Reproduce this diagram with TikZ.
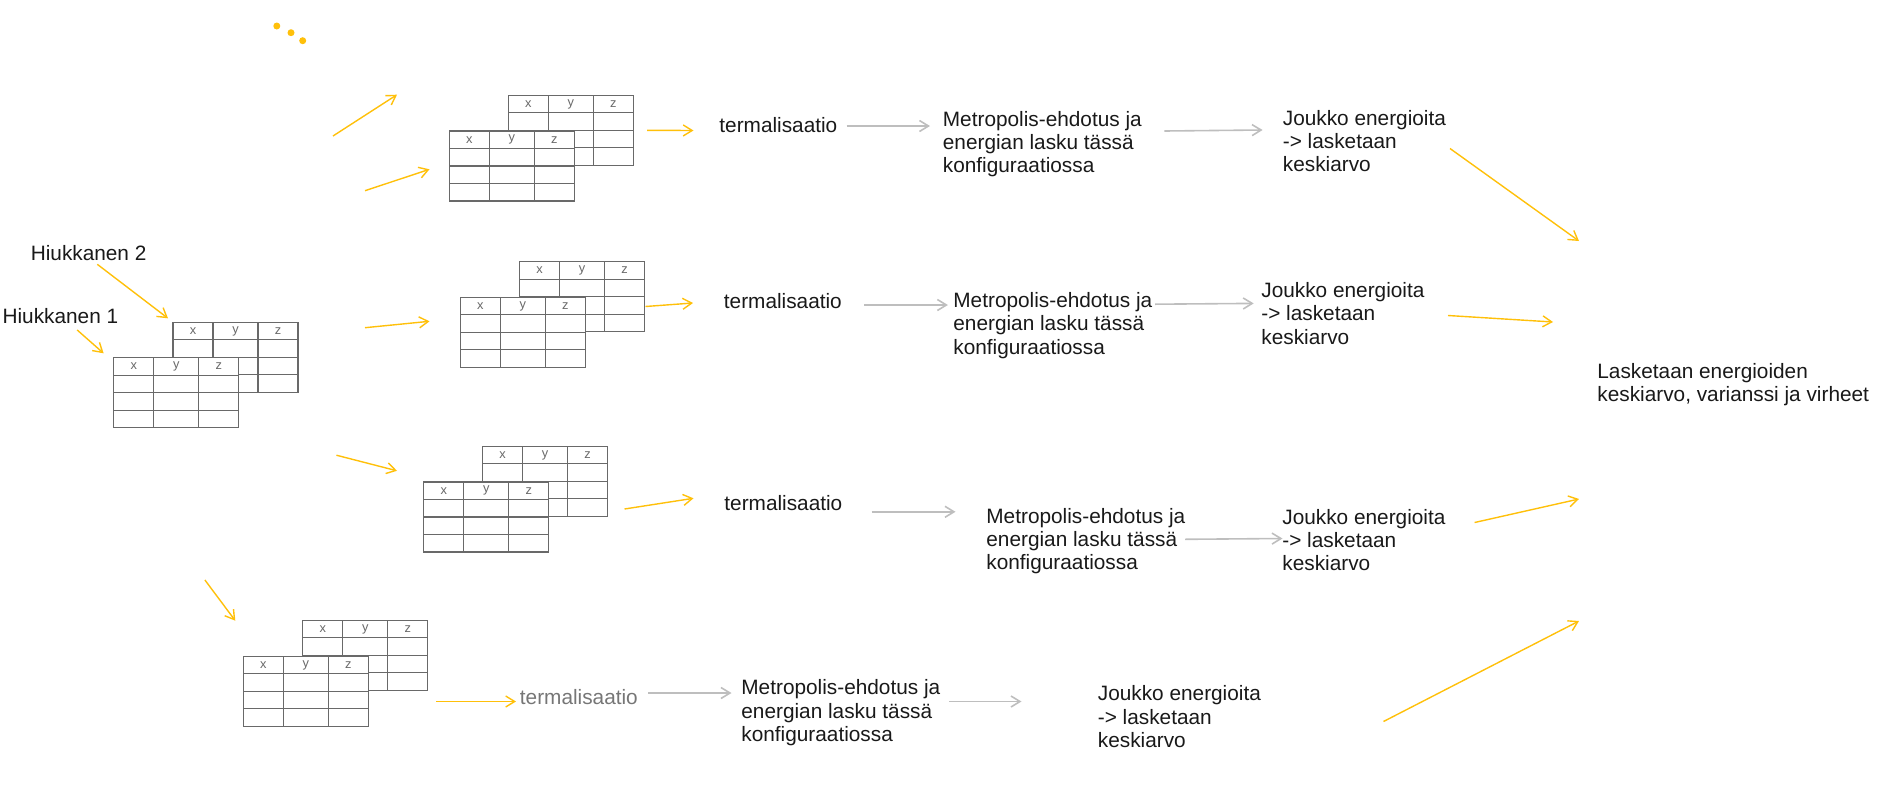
\documentclass[tikz,border=0pt]{standalone}
\usepackage{fontspec}
\setmainfont{Liberation Sans}
\usetikzlibrary{arrows.meta}
\definecolor{amber}{RGB}{255,192,10}
\definecolor{arrowgray}{RGB}{190,190,190}
\definecolor{gridgray}{RGB}{105,105,105}
\definecolor{ink}{RGB}{25,25,25}
\definecolor{softink}{RGB}{118,118,118}

\tikzset{
  tabline/.style={draw=gridgray, line width=0.6pt},
  hdr/.style={font=\fontsize{6.4pt}{7pt}\selectfont, text=gridgray, inner sep=0pt},
  % a 3-column x/y/z table, 4 rows, anchored at its top-left corner
  xyztab/.pic={
    \fill[white] (0,0) rectangle (125,70);
    \draw[tabline] (0,0) rectangle (125,70);
    \draw[tabline] (40,0) -- (40,70) (85,0) -- (85,70);
    \draw[tabline] (0,17.5) -- (125,17.5) (0,35) -- (125,35) (0,52.5) -- (125,52.5);
    \node[hdr] (-x) at (20,8.75) {x};
    \node[hdr] (-y) at (62.5,8.75) {y};
    \node[hdr] (-z) at (105,8.75) {z};
  },
  % multi-line labels are placed at the baseline of their last line
  txt/.style={font=\fontsize{10.4pt}{11.65pt}\selectfont, text=ink, inner sep=0pt, anchor=base west, align=left},
  flow/.style={draw=amber, line width=0.7pt, -{Straight Barb[length=4.5pt,width=5.5pt]}},
  procstep/.style={draw=arrowgray, line width=0.8pt, -{Straight Barb[length=4.5pt,width=5.5pt]}},
}

\begin{document}
\begin{tikzpicture}[x=0.5pt,y=-0.5pt]
\useasboundingbox (0,0) rectangle (1892,804);

% ellipsis dots
\fill[amber] (276.8,26) circle[radius=1.75pt];
\fill[amber] (291,32.7) circle[radius=1.75pt];
\fill[amber] (302.7,40.7) circle[radius=1.75pt];

% particle tables
\pic (t0b) at (173,322.3) {xyztab};
\pic (t0f) at (113.8,357.7) {xyztab};
\node[txt] (h2) at (30.4,260) {Hiukkanen 2};
\node[txt] (h1) at (2.2,323.3) {Hiukkanen 1};

% configuration copies
\pic (tAb) at (508.3,95.3) {xyztab};
\pic (tAf) at (449.3,131) {xyztab};
\pic (tBb) at (519.6,261.7) {xyztab};
\pic (tBf) at (460.3,297.3) {xyztab};
\pic (tCb) at (482.6,446.3) {xyztab};
\pic (tCf) at (423.7,482) {xyztab};
\pic (tDb) at (302.7,620.3) {xyztab};
\pic (tDf) at (243.3,656.3) {xyztab};

% text labels
\node[txt] (termA) at (719,132.5) {termalisaatio};
\node[txt] (metA) at (942.5,172.6) {Metropolis-ehdotus ja\\energian lasku tässä\\konfiguraatiossa};
\node[txt] (jouA) at (1282.5,171.6) {Joukko energioita\\-> lasketaan\\keskiarvo};

\node[txt] (termB) at (723.5,308.5) {termalisaatio};
\node[txt] (metB) at (953,354.1) {Metropolis-ehdotus ja\\energian lasku tässä\\konfiguraatiossa};
\node[txt] (jouB) at (1261,344.1) {Joukko energioita\\-> lasketaan\\keskiarvo};

\node[txt] (termC) at (724,510.8) {termalisaatio};
\node[txt] (metC) at (986,569.8) {Metropolis-ehdotus ja\\energian lasku tässä\\konfiguraatiossa};
\node[txt] (jouC) at (1282,570.8) {Joukko energioita\\-> lasketaan\\keskiarvo};

\node[txt, text=softink] (termD) at (519.5,704.2) {termalisaatio};
\node[txt] (metD) at (741,741.4) {Metropolis-ehdotus ja\\energian lasku tässä\\konfiguraatiossa};
\node[txt] (jouD) at (1097.5,747.4) {Joukko energioita\\-> lasketaan\\keskiarvo};

\node[txt] (final) at (1597,401.3) {Lasketaan energioiden\\keskiarvo, varianssi ja virheet};

% arrow end points
\coordinate (h2s) at (97.3,264.3);  \coordinate (h2e) at (168,318.3);
\coordinate (h1s) at (77.2,330);    \coordinate (h1e) at (103.6,353.3);
\coordinate (dotS) at (333,136);    \coordinate (dotE) at (397,94.7);
\coordinate (toAs) at (365,190.7);  \coordinate (toAe) at (429.5,169.3);
\coordinate (toBs) at (365,327.7);  \coordinate (toBe) at (429.5,321.3);
\coordinate (toCs) at (336.4,455.2);\coordinate (toCe) at (397,470.8);
\coordinate (toDs) at (204.9,580);  \coordinate (toDe) at (235.3,620.7);

\coordinate (aTs) at (647,130.3);   \coordinate (aTe) at (693.5,130.5);
\coordinate (bTs) at (645.5,306.5); \coordinate (bTe) at (693,303);
\coordinate (cTs) at (624.5,509);   \coordinate (cTe) at (693.5,498.3);
\coordinate (dTs) at (436.4,701.5); \coordinate (dTe) at (516,701.5);

\coordinate (aM1) at (846.5,126);   \coordinate (aM2) at (930,126);
\coordinate (aJ1) at (1164.4,131);  \coordinate (aJ2) at (1262.6,130);
\coordinate (bM1) at (864.4,305);   \coordinate (bM2) at (947.9,305);
\coordinate (bJ1) at (1155,304.2);  \coordinate (bJ2) at (1253.7,303.4);
\coordinate (cM1) at (871.5,511.8); \coordinate (cM2) at (955.5,511.8);
\coordinate (cJ1) at (1185,539.3);  \coordinate (cJ2) at (1282.5,538.5);
\coordinate (dM1) at (648,693);     \coordinate (dM2) at (731.5,693);
\coordinate (dJ1) at (949,701.5);   \coordinate (dJ2) at (1021.5,701.5);

\coordinate (fAs) at (1450,148.5);  \coordinate (fAe) at (1579,241);
\coordinate (fBs) at (1448,315.5);  \coordinate (fBe) at (1553,322);
\coordinate (fCs) at (1474.6,522.5);\coordinate (fCe) at (1579,499);
\coordinate (fDs) at (1383.5,721.5);\coordinate (fDe) at (1579,621);

% yellow flow arrows
\draw[flow] (h2s) -- (h2e);
\draw[flow] (h1s) -- (h1e);
\draw[flow] (dotS) -- (dotE);
\draw[flow] (toAs) -- (toAe);
\draw[flow] (toBs) -- (toBe);
\draw[flow] (toCs) -- (toCe);
\draw[flow] (toDs) -- (toDe);
\draw[flow] (aTs) -- (aTe);
\draw[flow] (bTs) -- (bTe);
\draw[flow] (cTs) -- (cTe);
\draw[flow] (dTs) -- (dTe);
\draw[flow] (fAs) -- (fAe);
\draw[flow] (fBs) -- (fBe);
\draw[flow] (fCs) -- (fCe);
\draw[flow] (fDs) -- (fDe);

% grey process steps
\draw[procstep] (aM1) -- (aM2);
\draw[procstep] (aJ1) -- (aJ2);
\draw[procstep] (bM1) -- (bM2);
\draw[procstep] (bJ1) -- (bJ2);
\draw[procstep] (cM1) -- (cM2);
\draw[procstep] (cJ1) -- (cJ2);
\draw[procstep] (dM1) -- (dM2);
\draw[procstep] (dJ1) -- (dJ2);
\end{tikzpicture}
\end{document}
